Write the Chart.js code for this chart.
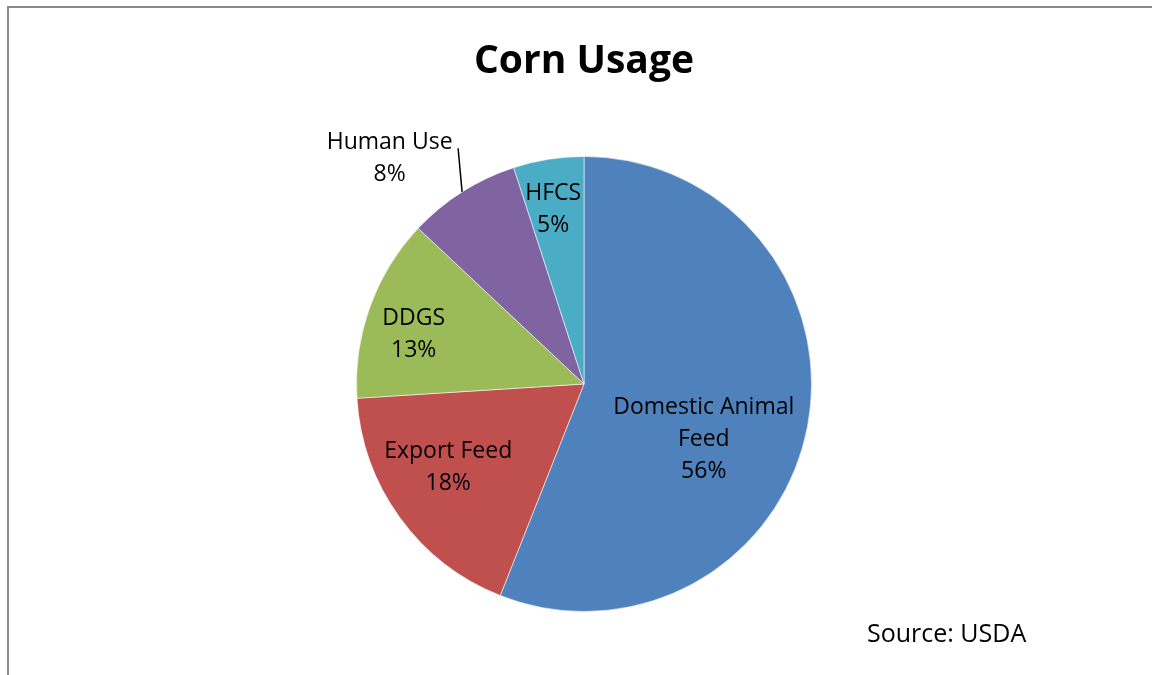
<!DOCTYPE html>
<html>
<head>
<meta charset="utf-8">
<title>Corn Usage</title>
<script src="https://cdn.jsdelivr.net/npm/chart.js@4/dist/chart.umd.min.js"></script>
<style>
  html, body { margin: 0; padding: 0; background: #fff; }
  body { width: 1152px; height: 675px; position: relative; overflow: hidden; font-family: "Open Sans", sans-serif; }
  .frame { position: absolute; left: 7px; top: 6px; right: -10px; bottom: -10px;
           border-top: 2px solid #8a8a8a; border-left: 2px solid #8a8a8a; }
  #chart-wrap { position: absolute; left: 0; top: 0; width: 1152px; height: 675px; }
  .title { position: absolute; left: 334px; width: 500px; top: 32px; text-align: center;
           font-weight: 700; font-size: 39px; color: #000; line-height: 52px; }
  .source { position: absolute; left: 867px; top: 617px; font-size: 25px; color: #000; line-height: 30px; }
</style>
</head>
<body>
<div class="frame"></div>
<div id="chart-wrap"><canvas id="cornChart"></canvas></div>
<div class="title">Corn Usage</div>
<div class="source">Source: USDA</div>
<script>
  "use strict";

  // --- data ------------------------------------------------------------
  const categories = ["Domestic Animal Feed", "Export Feed", "DDGS", "Human Use", "HFCS"];
  const shares = [56, 18, 13, 8, 5];
  const labelLines = [["Domestic Animal", "Feed"], ["Export Feed"], ["DDGS"], ["Human Use"], ["HFCS"]];
  const colors = ["#4F81BD", "#C0504D", "#9BBB59", "#8064A2", "#4BACC6"];

  // where each data label sits: angle shift from slice middle (deg), radius fraction
  const labelPlace = [
    { shift: 14, r: 0.58 },
    { shift: 4.5, r: 0.70 },
    { shift: -3.5, r: 0.78 },
    { shift: -8.3, r: 1.31, leader: { shift: 4.3, r: 1.175 } },
    { shift: -1, r: 0.78 },
  ];

  const LINE_H = 32;

  /* draws the Excel-style data labels (name + percent) */
  const dataLabels = {
    id: "dataLabels",
    afterDatasetsDraw(chart) {
      const ctx = chart.ctx;
      const arcs = chart.getDatasetMeta(0).data;
      const total = shares.reduce((a, b) => a + b, 0);
      ctx.save();
      ctx.fillStyle = "#000";
      ctx.font = '23px "Open Sans"';
      ctx.textAlign = "center";
      ctx.textBaseline = "middle";
      arcs.forEach((arc, i) => {
        const p = labelPlace[i];
        const mid = (arc.startAngle + arc.endAngle) / 2;
        const a = mid + (p.shift * Math.PI) / 180;
        const cx = arc.x + Math.cos(a) * arc.outerRadius * p.r;
        const cy = arc.y + Math.sin(a) * arc.outerRadius * p.r;
        const lines = labelLines[i].concat([Math.round((shares[i] / total) * 100) + "%"]);
        const top = cy - ((lines.length - 1) * LINE_H) / 2;
        lines.forEach((t, k) => ctx.fillText(t, cx, top + k * LINE_H));

        if (p.leader) {
          const la = mid + (p.leader.shift * Math.PI) / 180;
          ctx.strokeStyle = "#000";
          ctx.lineWidth = 1.5;
          ctx.beginPath();
          ctx.moveTo(arc.x + Math.cos(mid) * arc.outerRadius, arc.y + Math.sin(mid) * arc.outerRadius);
          ctx.lineTo(arc.x + Math.cos(la) * arc.outerRadius * p.leader.r, arc.y + Math.sin(la) * arc.outerRadius * p.leader.r);
          ctx.stroke();
        }
      });
      ctx.restore();
    },
  };

  new Chart(document.getElementById("cornChart"), {
    type: "pie",
    data: {
      labels: categories,
      datasets: [{
        data: shares,
        backgroundColor: colors,
        borderColor: "rgba(255,255,255,0.55)",
        borderWidth: 1,
      }],
    },
    options: {
      responsive: true,
      maintainAspectRatio: false,
      animation: false,
      layout: { padding: { top: 156, bottom: 63, left: 16, right: 0 } },
      plugins: {
        legend: { display: false },
        tooltip: { enabled: false },
      },
    },
    plugins: [dataLabels],
  });
</script>
</body>
</html>
